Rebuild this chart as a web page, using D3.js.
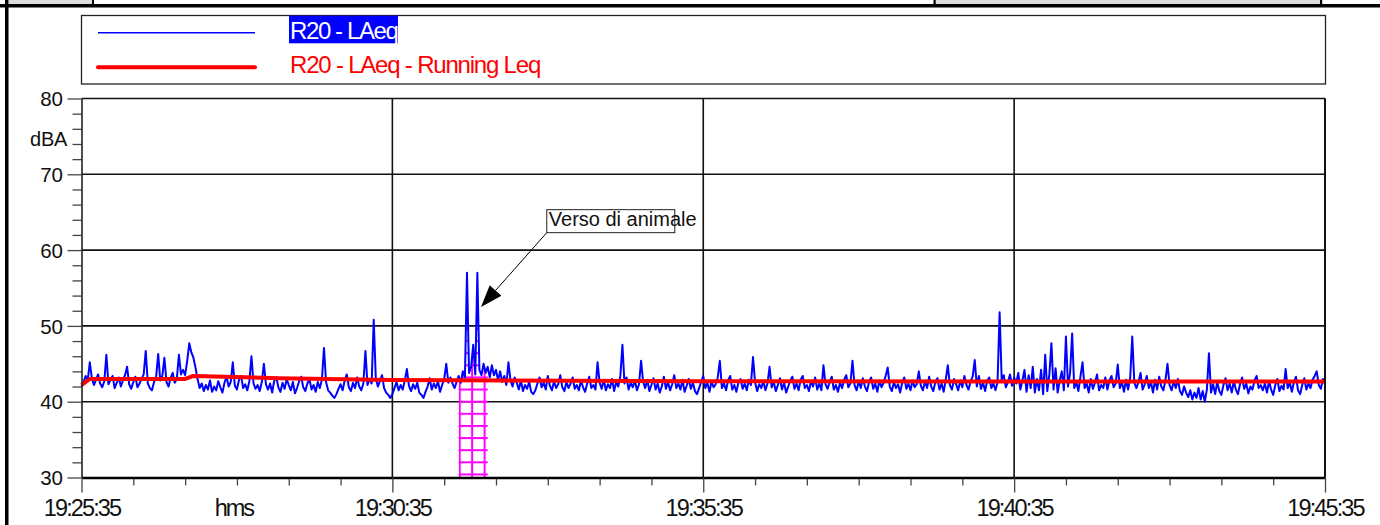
<!DOCTYPE html>
<html>
<head>
<meta charset="utf-8">
<script src="https://cdn.jsdelivr.net/npm/d3@7"></script>
<style>
  body { margin: 0; background: #fff; }
  svg { display: block; font-family: "Liberation Sans", Arial, sans-serif; }
</style>
</head>
<body>
<script>
// ---- data ----
const stepSec = 2; // one LAeq sample every 2 s from 19:25:35, one row = 1 minute
const laeq = [
  42.0,42.6,43.4,42.8,45.2,43.1,42.2,42.9,43.6,42.4,41.9,42.7,46.2,42.3,42.9,43.4,41.8,42.5,43.2,42.0,42.8,43.5,44.6,42.3,41.7,42.6,43.3,41.9,42.4,43.0,
  43.6,46.7,42.4,41.8,41.5,42.6,43.2,46.3,42.8,43.4,45.8,42.6,42.0,43.1,43.8,42.5,43.0,46.2,43.6,44.2,43.5,45.4,47.7,46.5,45.8,44.5,43.0,41.8,42.4,41.4,
  42.2,41.6,42.8,41.3,42.0,41.5,42.7,41.9,41.2,42.5,43.3,42.0,42.6,45.2,42.1,41.6,42.9,43.4,41.8,42.3,41.5,42.7,46.0,42.4,41.7,42.2,41.4,42.6,45.0,42.3,
  41.6,42.4,41.2,42.8,43.2,41.9,41.3,42.5,41.7,43.0,42.2,41.5,42.6,41.1,41.8,42.7,43.3,41.9,41.4,42.4,43.0,41.6,42.2,41.3,42.6,41.8,42.9,47.1,42.6,41.5,
  41.2,40.8,40.5,41.0,41.7,42.3,41.5,42.8,43.6,41.9,41.4,42.5,41.8,43.2,42.0,41.5,42.4,46.7,42.2,43.0,42.4,50.8,43.1,42.0,42.7,43.5,41.8,41.2,40.9,40.5,
  41.0,41.8,42.6,41.5,42.2,41.6,42.8,44.3,42.1,41.4,42.3,41.7,42.5,41.2,40.9,40.5,41.3,42.0,43.1,41.6,42.4,41.8,42.7,41.3,42.2,43.0,45.0,42.5,43.2,42.4,
  41.8,42.6,43.4,42.5,44.0,43.2,57.0,43.8,44.6,47.5,43.6,57.0,44.2,43.5,45.0,43.8,44.6,43.2,44.8,43.5,44.2,42.8,44.0,42.6,43.4,42.2,45.2,42.8,42.0,43.2,
  42.5,41.6,42.8,41.4,42.2,41.7,42.6,41.3,41.0,41.5,42.4,43.2,41.9,42.5,41.6,43.4,42.1,41.5,42.7,41.8,42.3,43.5,41.9,41.4,42.6,41.8,42.4,43.2,41.7,42.2,
  41.5,42.8,41.9,41.3,42.4,43.3,41.8,42.2,41.6,45.2,42.5,41.7,42.9,41.5,42.3,41.8,43.0,41.4,42.6,42.0,43.4,47.5,42.4,43.2,41.6,42.5,41.9,42.8,41.5,42.3,
  45.4,42.6,41.8,42.9,41.4,42.2,43.1,41.6,42.4,41.2,42.0,43.3,41.7,42.6,41.5,42.3,43.5,41.8,42.4,41.6,42.9,41.3,42.1,43.0,41.7,42.5,41.4,41.0,41.8,42.6,
  43.4,41.8,42.5,41.3,42.7,41.9,42.3,43.2,45.4,41.8,42.4,41.5,42.8,43.4,41.6,42.2,41.3,42.6,43.0,41.7,42.4,41.5,42.9,42.2,45.9,42.6,41.4,42.3,41.8,42.7,
  41.5,42.4,44.6,41.9,42.6,41.4,42.2,43.1,41.6,42.5,41.2,42.0,42.8,43.3,41.7,42.4,41.5,42.9,43.4,41.8,42.2,41.4,42.7,42.0,43.2,41.6,42.4,41.5,44.8,42.3,
  41.7,42.6,43.3,41.6,42.2,41.3,42.5,41.8,42.9,43.5,41.9,42.4,45.4,42.2,41.5,42.7,41.8,43.1,42.0,41.4,42.6,43.2,41.7,42.4,41.3,42.8,41.9,42.5,43.4,44.5,
  42.0,41.4,42.6,41.8,42.3,41.2,42.5,43.2,41.7,42.4,41.5,42.8,41.9,42.3,44.0,42.1,41.5,42.7,41.8,43.3,42.0,41.4,42.6,43.1,41.6,42.4,41.3,42.9,44.8,42.2,
  41.6,43.0,42.3,41.5,42.8,41.9,43.4,42.2,41.6,42.7,43.3,45.5,42.0,43.4,41.7,42.5,41.4,42.8,43.2,41.8,42.4,41.5,42.6,51.8,42.9,43.5,41.9,42.6,43.6,42.1,
  43.2,42.4,43.8,41.6,42.8,44.2,41.3,43.5,41.8,44.6,41.2,43.0,41.5,44.2,41.0,46.2,41.4,43.6,47.7,41.6,44.4,41.2,42.8,44.0,41.5,48.6,42.0,43.8,49.0,41.8,
  42.6,41.4,43.3,45.2,41.8,42.4,41.2,43.0,41.7,42.5,43.6,41.5,42.2,41.8,43.2,41.6,42.8,43.4,41.9,42.4,44.9,41.8,42.6,41.3,42.9,41.6,43.2,48.6,42.5,41.8,
  42.6,43.8,41.6,42.3,43.4,41.8,42.6,41.2,42.9,41.6,43.3,42.0,41.5,42.8,45.0,42.2,41.5,42.7,41.8,43.0,41.4,40.9,42.0,41.2,40.6,41.5,40.3,41.2,40.5,41.8,
  40.3,41.4,40.0,41.6,46.4,41.2,42.3,41.0,42.6,41.4,40.9,42.2,43.1,41.5,42.4,41.2,42.7,41.6,41.0,42.3,43.2,41.7,42.4,41.1,42.0,41.6,42.8,43.4,41.8,42.2,
  41.5,42.4,41.2,42.7,41.6,40.9,42.2,43.0,41.4,42.1,41.6,44.3,41.8,42.5,41.3,42.6,43.3,41.5,41.0,42.2,43.1,41.6,42.4,41.8,42.9,43.4,44.0,42.2,41.7,43.0,
  42.4
];
const runSec = [0, 8, 100, 108, 190, 300, 600, 1200];
const runLeq = [42.2, 43.0, 43.0, 43.4, 43.1, 42.85, 42.7, 42.65];
const yMajor = [30, 40, 50, 60, 70, 80];
const xMajorSec = [0, 300, 600, 900, 1200];
const xLabels = ["19:25:35", "19:30:35", "19:35:35", "19:40:35", "19:45:35"];
const maskSec = [364, 392];          // masked interval (excluded)
const seriesNames = ["R20 - LAeq", "R20 - LAeq - Running Leq"];
const noteText = "Verso di animale";
const noteTip = [385.5, 52.5];       // sec, dB
const noteCorner = [449, 62.3];      // sec, dB

// ---- drawing ----
const W = 1380, H = 525;
const svg = d3.select("body").append("svg").attr("width", W).attr("height", H);

const x = d3.scaleLinear().domain([0, 1200]).range([81.5, 1325]);
const y = d3.scaleLinear().domain([30, 80]).range([477.5, 98.5]);

// page frame bits
svg.append("rect").attr("x", 9).attr("y", 0).attr("width", 83).attr("height", 4).attr("fill", "#dcdcdc");
svg.append("rect").attr("x", 92).attr("y", 0).attr("width", 2).attr("height", 4).attr("fill", "#000");
svg.append("rect").attr("x", 935).attr("y", 0).attr("width", 386).attr("height", 4).attr("fill", "#dedede");
svg.append("rect").attr("x", 933.5).attr("y", 0).attr("width", 2.2).attr("height", 4).attr("fill", "#000");
svg.append("rect").attr("x", 1320).attr("y", 0).attr("width", 2.2).attr("height", 4).attr("fill", "#000");
svg.append("rect").attr("x", 0).attr("y", 4).attr("width", W).attr("height", 3.5).attr("fill", "#000");
svg.append("rect").attr("x", 5).attr("y", 0).attr("width", 3.5).attr("height", H).attr("fill", "#000");

// legend
const leg = svg.append("g");
leg.append("rect").attr("x", 81.5).attr("y", 15.5).attr("width", 1244).attr("height", 68.5)
  .attr("fill", "#fff").attr("stroke", "#222").attr("stroke-width", 1.3);
leg.append("line").attr("x1", 98).attr("x2", 255).attr("y1", 32.7).attr("y2", 32.7)
  .attr("stroke", "#0000ff").attr("stroke-width", 1.4);
leg.append("line").attr("x1", 98).attr("x2", 255).attr("y1", 67.3).attr("y2", 67.3)
  .attr("stroke", "#ff0000").attr("stroke-width", 4).attr("stroke-linecap", "round");
leg.append("rect").attr("x", 289).attr("y", 15.7).attr("width", 109).attr("height", 27.6).attr("fill", "#0000ff");
leg.append("text").attr("x", 290).attr("y", 39.3).text(seriesNames[0])
  .attr("fill", "#fff").attr("font-size", 24).attr("letter-spacing", -1.4);
leg.append("text").attr("x", 290).attr("y", 72.8).text(seriesNames[1])
  .attr("fill", "#ff0000").attr("font-size", 24).attr("letter-spacing", -1.2);

// grid
const grid = svg.append("g").attr("stroke", "#111").attr("stroke-width", 1.6);
grid.selectAll(".gh").data(yMajor.slice(1)).join("line")
  .attr("x1", x(0)).attr("x2", x(1200)).attr("y1", d => y(d)).attr("y2", d => y(d));
grid.selectAll(".gv").data(xMajorSec.slice(1)).join("line")
  .attr("x1", d => x(d)).attr("x2", d => x(d)).attr("y1", y(80)).attr("y2", y(30));

// masked interval hatch, clipped to area under the curve
const pts = laeq.map((v, i) => [i * stepSec, v]);
const defs = svg.append("defs");
const cellW = x(377) - x(365), cellH = y(30.4) - y(32.0);
const pat = defs.append("pattern").attr("id", "hatch").attr("patternUnits", "userSpaceOnUse")
  .attr("x", x(365) - 1).attr("y", y(30.4) - 1).attr("width", cellW).attr("height", cellH);
pat.append("rect").attr("width", 2).attr("height", cellH).attr("fill", "#ff00ff");
pat.append("rect").attr("width", cellW).attr("height", 2).attr("fill", "#ff00ff");
const maskPts = pts.filter(d => d[0] >= maskSec[0] && d[0] <= maskSec[1]);
defs.append("clipPath").attr("id", "maskClip").append("path")
  .attr("d", d3.area().x(d => x(d[0])).y0(y(30)).y1(d => y(d[1]))(maskPts));
svg.append("rect").attr("x", x(maskSec[0]) - 2).attr("y", y(80))
  .attr("width", x(maskSec[1]) - x(maskSec[0]) + 4).attr("height", y(30) - y(80))
  .attr("fill", "url(#hatch)").attr("clip-path", "url(#maskClip)");

// series
svg.append("path").datum(pts)
  .attr("d", d3.line().x(d => x(d[0])).y(d => y(d[1])))
  .attr("fill", "none").attr("stroke", "#0000ff").attr("stroke-width", 2).attr("stroke-linejoin", "round");
svg.append("path").datum(runSec.map((s, i) => [s, runLeq[i]]))
  .attr("d", d3.line().x(d => x(d[0])).y(d => y(d[1])))
  .attr("fill", "none").attr("stroke", "#ff0000").attr("stroke-width", 4).attr("stroke-linejoin", "round");

// right border
svg.append("line").attr("x1", x(1200)).attr("x2", x(1200)).attr("y1", y(80)).attr("y2", y(30))
  .attr("stroke", "#111").attr("stroke-width", 2);

// y axis
const yMinor = d3.range(30, 81, 2).filter(v => !yMajor.includes(v));
const yMinG = svg.append("g").attr("transform", `translate(${x(0)},0)`)
  .call(d3.axisLeft(y).tickValues(yMinor).tickSize(9).tickSizeOuter(0).tickFormat(""));
yMinG.select(".domain").remove();
const yAx = svg.append("g").attr("transform", `translate(${x(0)},0)`)
  .call(d3.axisLeft(y).tickValues(yMajor).tickSize(14).tickSizeOuter(0).tickPadding(4.5).tickFormat(d3.format("d")));
yAx.select(".domain").attr("stroke", "#222").attr("stroke-width", 1.6);
yAx.selectAll("text").attr("font-size", 20.5).attr("fill", "#111").attr("dy", "0.35em");

// x axis
const xMinor = d3.range(0, 1201, 50).filter(v => !xMajorSec.includes(v));
const xMinG = svg.append("g").attr("transform", `translate(0,${y(30)})`)
  .call(d3.axisBottom(x).tickValues(xMinor).tickSize(8).tickSizeOuter(0).tickFormat(""));
xMinG.select(".domain").remove();
const xAx = svg.append("g").attr("transform", `translate(0,${y(30)})`)
  .call(d3.axisBottom(x).tickValues(xMajorSec).tickSize(15).tickSizeOuter(0).tickPadding(7)
    .tickFormat((d, i) => xLabels[i]));
xAx.select(".domain").attr("stroke", "#000").attr("stroke-width", 2.4);
xAx.selectAll("text").attr("font-size", 23.5).attr("fill", "#111").attr("letter-spacing", -1.9);
svg.selectAll("g.tick line").attr("stroke", "#444").attr("stroke-width", 1.3);
svg.selectAll("g").attr("font-family", null);

// unit labels
svg.append("text").attr("x", 67).attr("y", 146).attr("text-anchor", "end")
  .attr("font-size", 20).attr("fill", "#111").attr("letter-spacing", -0.3).text("dBA");
svg.append("text").attr("x", x(147)).attr("y", 516).attr("text-anchor", "middle")
  .attr("font-size", 23.5).attr("fill", "#111").attr("letter-spacing", -2).text("hms");

// annotation
const cx = x(noteCorner[0]), cy = y(noteCorner[1]);
const tx = x(noteTip[0]), ty = y(noteTip[1]);
const len = Math.hypot(tx - cx, ty - cy), ux = (tx - cx) / len, uy = (ty - cy) / len;
const bx = tx - 22 * ux, by = ty - 22 * uy;
svg.append("line").attr("x1", cx).attr("y1", cy).attr("x2", bx).attr("y2", by)
  .attr("stroke", "#000").attr("stroke-width", 1);
svg.append("path").attr("fill", "#000")
  .attr("d", `M${tx},${ty}L${bx - 7.8 * uy},${by + 7.8 * ux}L${bx + 7.8 * uy},${by - 7.8 * ux}Z`);
svg.append("rect").attr("x", cx).attr("y", cy - 23).attr("width", 128).attr("height", 23)
  .attr("fill", "#fff").attr("stroke", "#222").attr("stroke-width", 1);
svg.append("text").attr("x", cx + 2).attr("y", cy - 7).attr("font-size", 20).attr("fill", "#111").text(noteText);
</script>
</body>
</html>
